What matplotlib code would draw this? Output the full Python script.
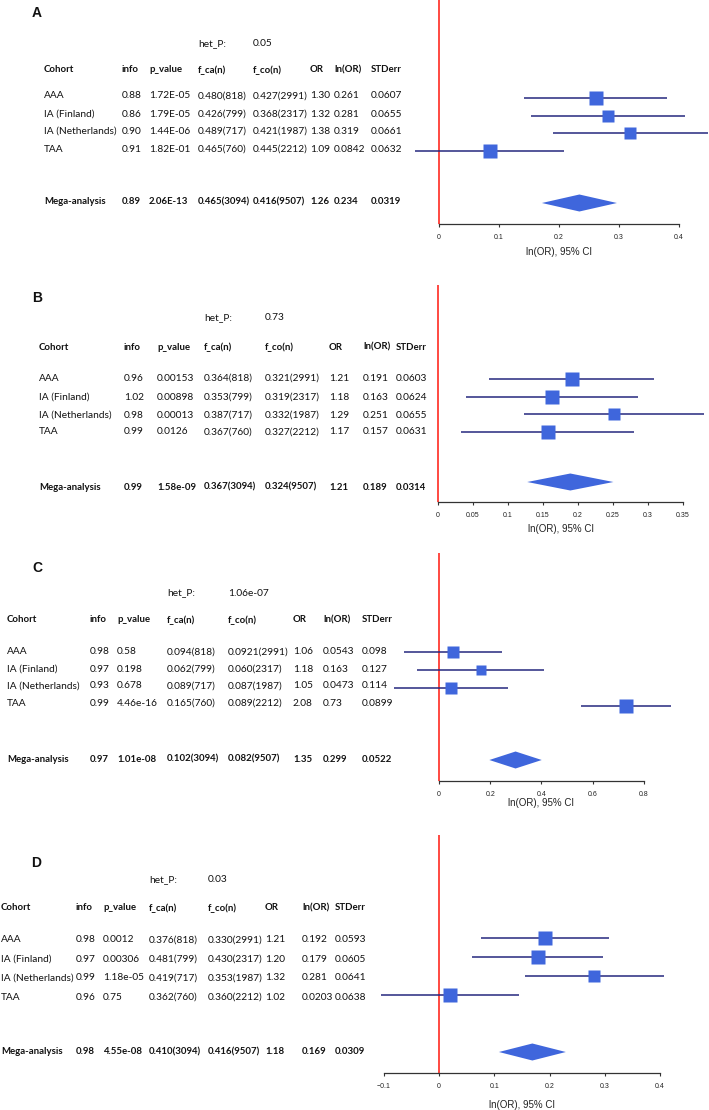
import matplotlib
matplotlib.use('Agg')
from matplotlib import pyplot as plt

# Forest plots of four variants: per-cohort table + ln(OR) with 95% CI

cohorts = ['AAA', 'IA (Finland)', 'IA (Netherlands)', 'TAA']
mega_name = 'Mega-analysis'
header = ['Cohort', 'info', 'p_value', 'f_ca(n)', 'f_co(n)', 'OR', 'ln(OR)', 'STDerr']

# Panel A
A_het = '0.05'
A_info = ['0.88', '0.86', '0.90', '0.91', '0.89']
A_pval = ['1.72E-05', '1.79E-05', '1.44E-06', '1.82E-01', '2.06E-13']
A_fca = ['0.480(818)', '0.426(799)', '0.489(717)', '0.465(760)', '0.465(3094)']
A_fco = ['0.427(2991)', '0.368(2317)', '0.421(1987)', '0.445(2212)', '0.416(9507)']
A_or = ['1.30', '1.32', '1.38', '1.09', '1.26']
A_lnor = [0.261, 0.281, 0.319, 0.0842, 0.234]
A_se = [0.0607, 0.0655, 0.0661, 0.0632, 0.0319]
A_ticks = [0, 0.1, 0.2, 0.3, 0.4]
A_ticklabels = ['0', '0.1', '0.2', '0.3', '0.4']

# Panel B
B_het = '0.73'
B_info = ['0.96', '1.02', '0.98', '0.99', '0.99']
B_pval = ['0.00153', '0.00898', '0.00013', '0.0126', '1.58e-09']
B_fca = ['0.364(818)', '0.353(799)', '0.387(717)', '0.367(760)', '0.367(3094)']
B_fco = ['0.321(2991)', '0.319(2317)', '0.332(1987)', '0.327(2212)', '0.324(9507)']
B_or = ['1.21', '1.18', '1.29', '1.17', '1.21']
B_lnor = [0.191, 0.163, 0.251, 0.157, 0.189]
B_se = [0.0603, 0.0624, 0.0655, 0.0631, 0.0314]
B_ticks = [0, 0.05, 0.1, 0.15, 0.2, 0.25, 0.3, 0.35]
B_ticklabels = ['0', '0.05', '0.1', '0.15', '0.2', '0.25', '0.3', '0.35']

# Panel C
C_het = '1.06e-07'
C_info = ['0.98', '0.97', '0.93', '0.99', '0.97']
C_pval = ['0.58', '0.198', '0.678', '4.46e-16', '1.01e-08']
C_fca = ['0.094(818)', '0.062(799)', '0.089(717)', '0.165(760)', '0.102(3094)']
C_fco = ['0.0921(2991)', '0.060(2317)', '0.087(1987)', '0.089(2212)', '0.082(9507)']
C_or = ['1.06', '1.18', '1.05', '2.08', '1.35']
C_lnor = [0.0543, 0.163, 0.0473, 0.73, 0.299]
C_se = [0.098, 0.127, 0.114, 0.0899, 0.0522]
C_ticks = [0, 0.2, 0.4, 0.6, 0.8]
C_ticklabels = ['0', '0.2', '0.4', '0.6', '0.8']

# Panel D
D_het = '0.03'
D_info = ['0.98', '0.97', '0.99', '0.96', '0.98']
D_pval = ['0.0012', '0.00306', '1.18e-05', '0.75', '4.55e-08']
D_fca = ['0.376(818)', '0.481(799)', '0.419(717)', '0.362(760)', '0.410(3094)']
D_fco = ['0.330(2991)', '0.430(2317)', '0.353(1987)', '0.360(2212)', '0.416(9507)']
D_or = ['1.21', '1.20', '1.32', '1.02', '1.18']
D_lnor = [0.192, 0.179, 0.281, 0.0203, 0.169]
D_se = [0.0593, 0.0605, 0.0641, 0.0638, 0.0309]
D_ticks = [-0.1, 0, 0.1, 0.2, 0.3, 0.4]
D_ticklabels = ['\u22120.1', '0', '0.1', '0.2', '0.3', '0.4']

W, H = 709, 1110
TABLE_FONT = ['Lato', 'DejaVu Sans']
AXIS_FONT = ['Liberation Sans', 'DejaVu Sans']
SQ_COLOR = '#3f66dc'
CI_COLOR = '#26287f'
RED = '#ff3a33'

# layout (pixel positions) per panel
layouts = {
    'A': dict(label=(32, 13), het_y=44, head_y=70, rows=[96, 114, 131, 149, 202],
              marks=[98, 116, 133, 151, 203], cols=[44, 122, 149, 198, 253, 310, 334, 371],
              x0=439, scale=600, top=0, base=224, xlab_y=252),
    'B': dict(label=(32, 298), het_y=318, head_y=347, rows=[378, 397, 415, 432, 487],
              marks=[379, 397, 414, 432, 482], cols=[39, 124, 157, 204, 265, 329, 363, 396],
              x0=438, scale=700, top=285, base=502, xlab_y=529),
    'C': dict(label=(32, 568), het_y=593, head_y=620, rows=[652, 669, 686, 703, 759],
              marks=[652, 670, 688, 706, 760], cols=[7, 90, 117, 167, 228, 293, 323, 362],
              x0=439, scale=256, top=553, base=781, xlab_y=803),
    'D': dict(label=(31, 863), het_y=880, head_y=908, rows=[940, 959, 978, 997, 1052],
              marks=[938, 957, 976, 995, 1052], cols=[1, 76, 103, 149, 208, 265, 302, 335],
              x0=439, scale=552.5, top=835, base=1073, xlab_y=1105),
}

panels = [
    ('A', A_het, A_info, A_pval, A_fca, A_fco, A_or, A_lnor, A_se, A_ticks, A_ticklabels),
    ('B', B_het, B_info, B_pval, B_fca, B_fco, B_or, B_lnor, B_se, B_ticks, B_ticklabels),
    ('C', C_het, C_info, C_pval, C_fca, C_fco, C_or, C_lnor, C_se, C_ticks, C_ticklabels),
    ('D', D_het, D_info, D_pval, D_fca, D_fco, D_or, D_lnor, D_se, D_ticks, D_ticklabels),
]

fig = plt.figure(figsize=(W / 100, H / 100), dpi=100)


def put(x, y, s, bold=False, size=None, family=TABLE_FONT):
    if size is None:
        size = 6.9 if bold else 7.3
    fig.text(x / W, 1 - y / H, s, ha='left', va='center', fontsize=size,
             fontweight='bold' if bold else 'normal', family=family, color='#111111')


for name, het, info, pval, fca, fco, odds, lnor, se, ticks, ticklabels in panels:
    L = layouts[name]
    cols = L['cols']

    # table part
    put(L['label'][0], L['label'][1], name, bold=True, size=10, family=AXIS_FONT)
    put(cols[3], L['het_y'], 'het_P:')
    put(cols[4], L['het_y'], het)
    for c, h in zip(cols, header):
        put(c, L['head_y'], h, bold=True)
    names = cohorts + [mega_name]
    for i in range(5):
        row = [names[i], info[i], pval[i], fca[i], fco[i], odds[i], str(lnor[i]), str(se[i])]
        for c, s in zip(cols, row):
            put(c, L['rows'][i], s, bold=(i == 4))

    # forest part, y data = pixel rows
    left_px = 370
    ax = fig.add_axes([left_px / W, 1 - L['base'] / H, (W - left_px) / W,
                       (L['base'] - L['top']) / H])
    ax.set_facecolor('none')
    ax.set_xlim((left_px - L['x0']) / L['scale'], (W - L['x0']) / L['scale'])
    ax.set_ylim(L['base'], L['top'])
    ax.axvline(0, color=RED, lw=1.3, zorder=1)

    min_se = min(se[:4])
    for i in range(4):
        lo, hi = lnor[i] - 1.96 * se[i], lnor[i] + 1.96 * se[i]
        ax.hlines(L['marks'][i], lo, hi, color=CI_COLOR, lw=1.1, zorder=2)
        side = 14 * min_se / se[i]
        ax.plot(lnor[i], L['marks'][i], marker='s', ms=side * 0.72, color=SQ_COLOR,
                mec='none', zorder=3, clip_on=False)
    m, s = lnor[4], se[4]
    yc, hh = L['marks'][4], 8.5
    ax.fill([m - 1.96 * s, m, m + 1.96 * s, m], [yc, yc - hh, yc, yc + hh],
            color=SQ_COLOR, lw=0, zorder=3)

    for sp in ['left', 'right', 'top']:
        ax.spines[sp].set_visible(False)
    ax.spines['bottom'].set_bounds(ticks[0], ticks[-1])
    ax.spines['bottom'].set_color('#333333')
    ax.spines['bottom'].set_linewidth(0.9)
    ax.set_yticks([])
    ax.set_xticks(ticks)
    ax.set_xticklabels(ticklabels, family=AXIS_FONT, fontsize=5)
    ax.tick_params(axis='x', length=2.5, width=0.8, pad=5, color='#333333', labelcolor='#222222')
    ax.text((ticks[0] + ticks[-1]) / 2, L['xlab_y'], 'ln(OR), 95% CI', ha='center', va='center',
            fontsize=7, family=AXIS_FONT, color='#222222', clip_on=False)

fig.savefig('out.png', dpi=100)
